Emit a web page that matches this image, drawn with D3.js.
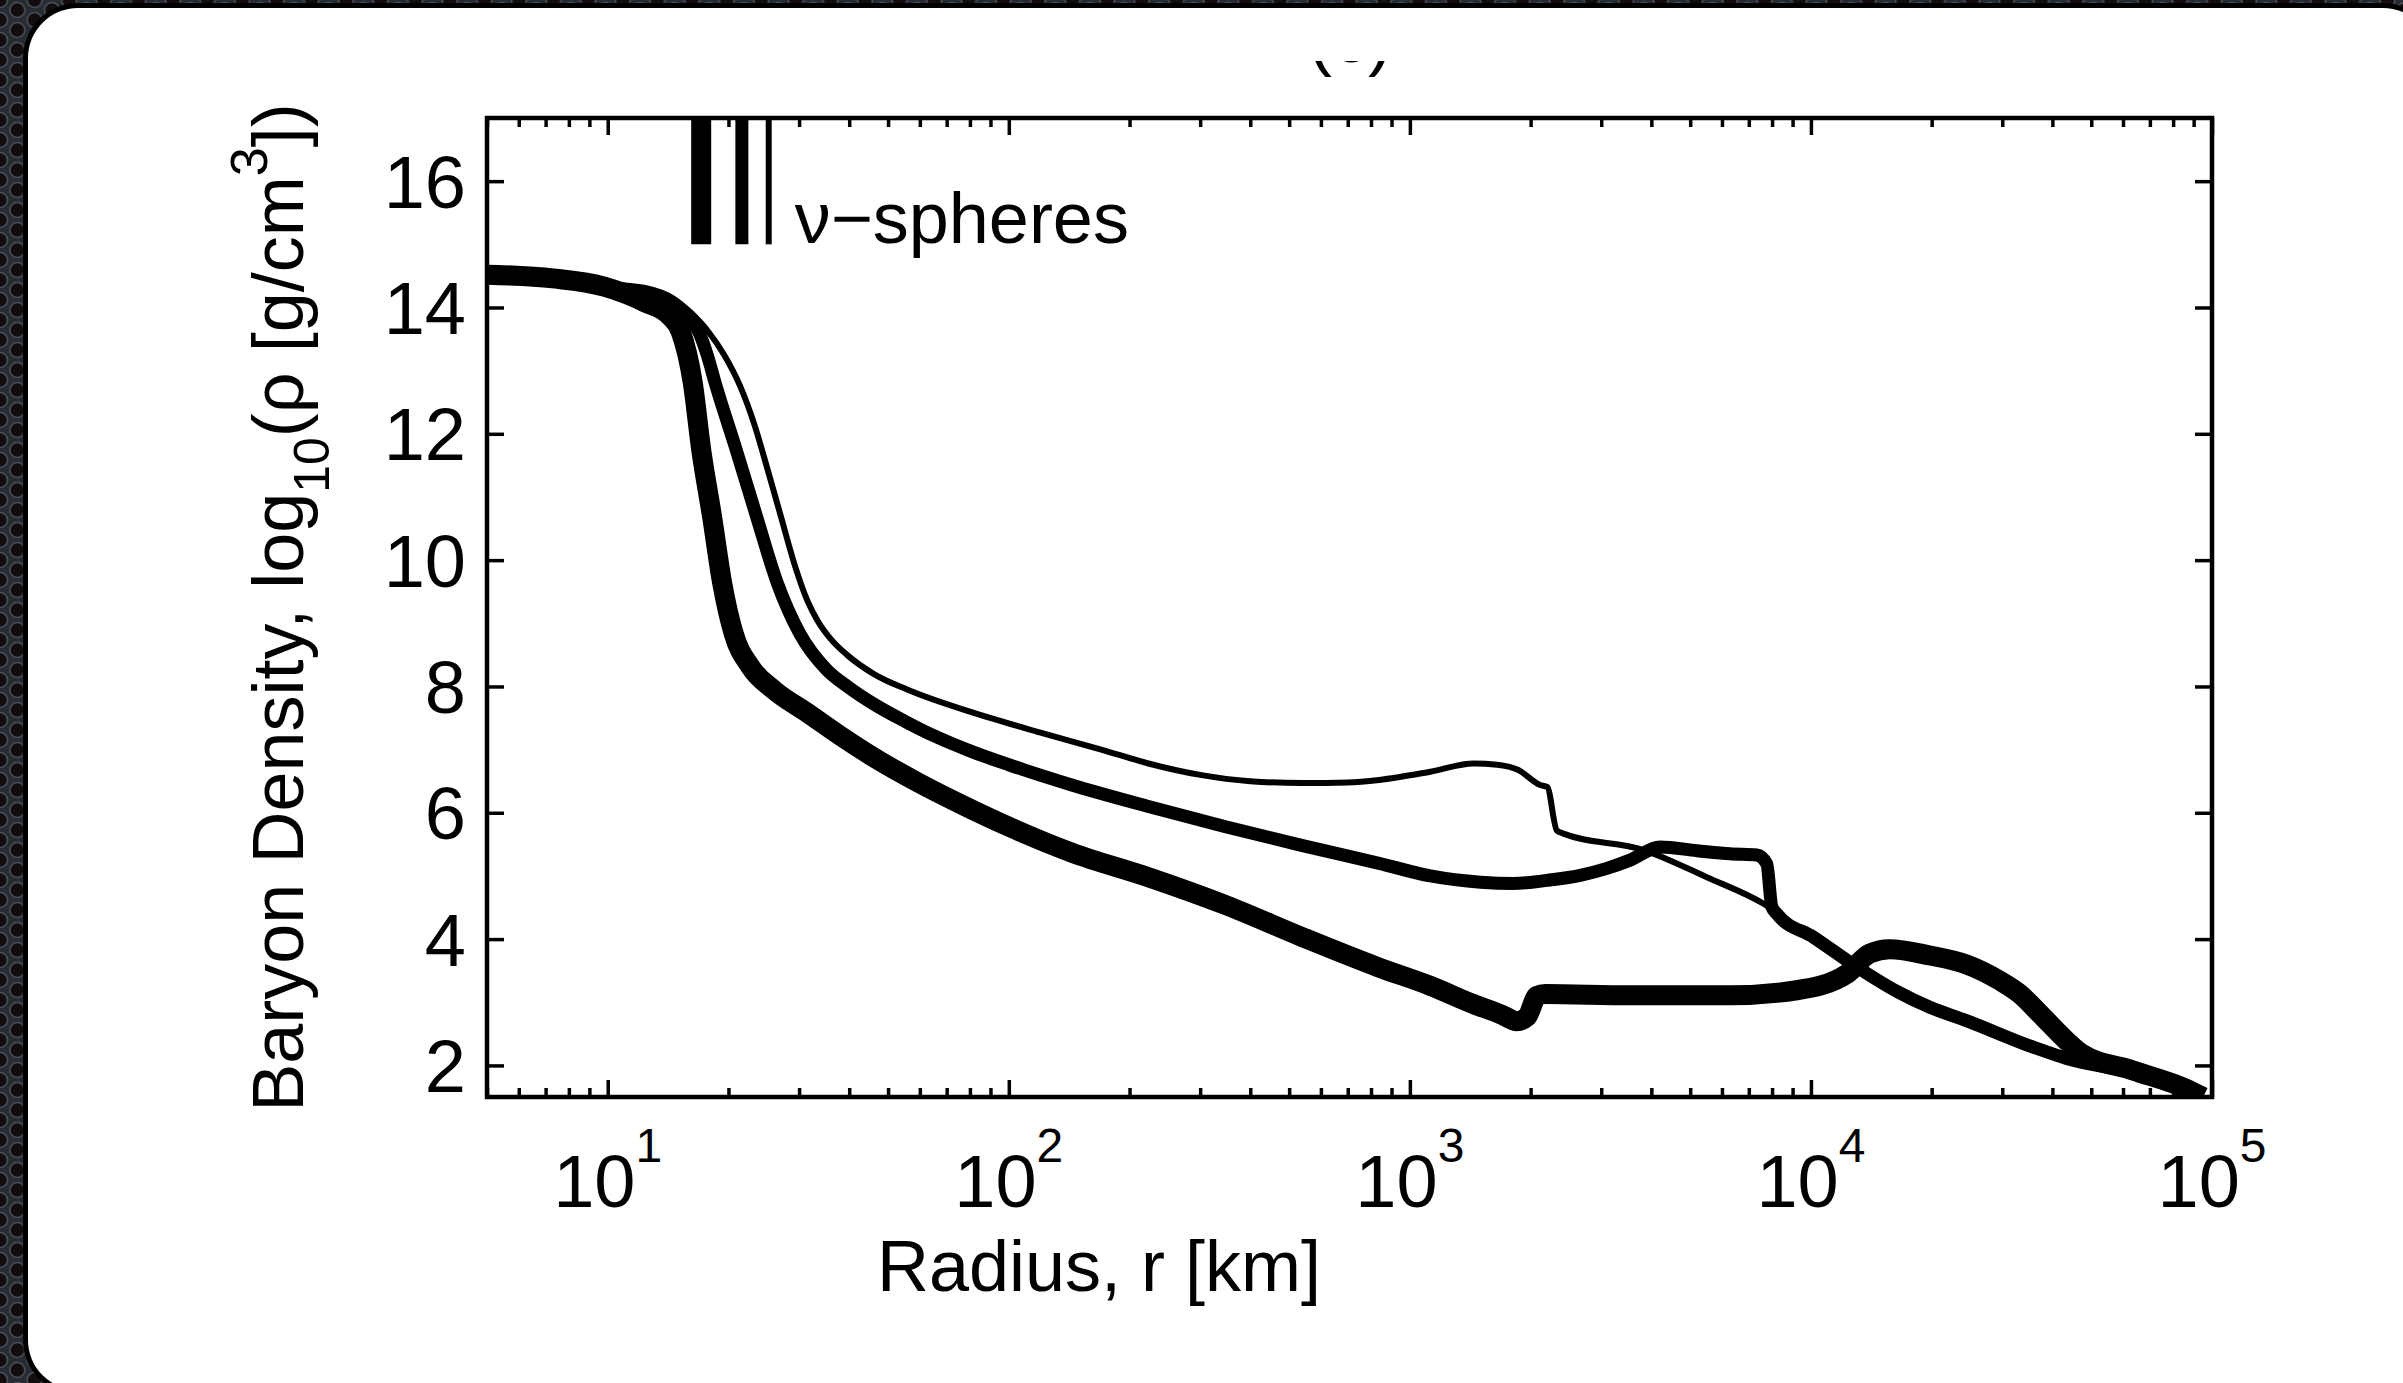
<!DOCTYPE html>
<html>
<head>
<meta charset="utf-8">
<script src="https://cdn.jsdelivr.net/npm/d3@7"></script>
<style>
    html, body { margin: 0; padding: 0; background: #1c1f24; overflow: hidden; }
    svg { display: block; }
    text { font-family: "Liberation Sans", Arial, Helvetica, sans-serif; fill: #000; }
</style>
</head>
<body>
<div id="chart"></div>
<script>

// radius [km], log10 density (thick, medium, thin)
const profileThick = [
    [5, 14.52], [7.3, 14.46], [9.8, 14.33], [12.4, 14.08], [14.3, 13.86], [15.2, 13.62],
    [16.3, 12.8], [17.1, 11.75], [18.2, 10.69], [19.3, 9.63], [20.6, 8.84], [22.7, 8.31],
    [26, 7.94], [31.5, 7.58], [38, 7.22], [46, 6.88], [59.4, 6.48], [78, 6.1], [100, 5.78],
    [143.5, 5.37], [223, 4.98], [347, 4.54], [540, 4.03], [838, 3.55], [1125, 3.26],
    [1442, 2.97], [1700, 2.8], [1849, 2.7], [1960, 2.77], [2074, 3.1], [2175, 3.13],
    [3540, 3.11], [6280, 3.11], [9220, 3.19], [12300, 3.45], [14000, 3.77], [15700, 3.84],
    [19800, 3.74], [24400, 3.6], [29600, 3.34], [33200, 3.13], [37200, 2.82], [43400, 2.39],
    [47000, 2.2], [63500, 1.92], [86300, 1.63], [95000, 1.5]
]

const profileMedium = [
    [5, 14.53], [7.3, 14.47], [9.8, 14.35], [12.4, 14.2], [14.3, 14.03], [15.5, 13.92],
    [16.2, 13.8], [16.9, 13.6], [17.7, 13.25], [18.54, 12.8], [20.9, 11.75], [23.5, 10.69],
    [26.5, 9.63], [30.1, 8.84], [35.2, 8.26], [40, 7.98], [46.1, 7.72], [55, 7.45],
    [65, 7.22], [80, 6.98], [100, 6.76], [143.5, 6.44], [223, 6.1], [347, 5.78],
    [540, 5.48], [838, 5.2], [1125, 5.0], [1500, 4.9], [1811, 4.88], [2200, 4.93],
    [2660, 5.01], [3100, 5.12], [3540, 5.25], [4205, 5.46], [5200, 5.4], [6280, 5.35],
    [7330, 5.33], [7760, 5.19], [7990, 4.51], [8220, 4.4], [10150, 4.03], [13000, 3.56],
    [16400, 3.17], [19800, 2.92], [24400, 2.71], [35800, 2.29], [43400, 2.11], [63500, 1.88],
    [86300, 1.6], [95000, 1.5]
]

const profileThin = [
    [5, 14.56], [7.3, 14.5], [9.8, 14.38], [12.4, 14.31], [14.6, 14.14], [16.1, 13.92],
    [17.8, 13.62], [19.5, 13.25], [21.4, 12.75], [23.2, 12.15], [25, 11.45], [27, 10.7],
    [29.5, 9.85], [31.5, 9.35], [33.3, 9.05], [36, 8.75], [39.5, 8.5], [46, 8.2],
    [55.8, 7.95], [81.8, 7.58], [120, 7.27], [170, 7.0], [223, 6.78], [300, 6.6],
    [400, 6.5], [540, 6.47], [700, 6.48], [838, 6.52], [1125, 6.65], [1442, 6.78],
    [1650, 6.76], [1860, 6.68], [2113, 6.44], [2200, 6.41], [2325, 5.72], [2415, 5.67],
    [3830, 5.41], [5500, 4.98], [7620, 4.56], [10150, 4.0], [12300, 3.68], [16400, 3.2],
    [24400, 2.71], [35800, 2.29], [43400, 2.11], [63500, 1.88], [86300, 1.6], [95000, 1.5]
]

// neutrino-sphere radii for the three profiles, same order
const nuSphereRadii = [17.1, 21.6, 25.2]
const nuSphereRange = [15, 17]

const radiusDomain = [5, 1e5]
const densityDomain = [1.5, 17]
const radiusDecades = [1, 2, 3, 4, 5]
const densityTicks = [2, 4, 6, 8, 10, 12, 14, 16]

const lineWidths = [20, 13, 6]

const W = 2403, H = 1383

const svg = d3.select("#chart").append("svg")
    .attr("width", W)
    .attr("height", H)

// perforated dark backdrop + white rounded card
const defs = svg.append("defs")
const pat = defs.append("pattern")
    .attr("id", "holes")
    .attr("patternUnits", "userSpaceOnUse")
    .attr("width", 34.6)
    .attr("height", 20)
pat.append("rect").attr("width", 34.6).attr("height", 20).attr("fill", "#272b32")
;[[0, 0], [0, 20], [17.3, 10], [34.6, 0], [34.6, 20]].forEach(c => {
    pat.append("circle")
        .attr("cx", c[0]).attr("cy", c[1]).attr("r", 7.5)
        .attr("fill", "#140d10")
        .attr("stroke", "#4a5058")
        .attr("stroke-width", 1.6)
})

svg.append("rect").attr("width", W).attr("height", H).attr("fill", "url(#holes)")
svg.append("rect")
    .attr("x", 23).attr("y", 3).attr("width", 2415).attr("height", 1392)
    .attr("rx", 55).attr("fill", "#000")
svg.append("rect")
    .attr("x", 28).attr("y", 8).attr("width", 2405).attr("height", 1382)
    .attr("rx", 50).attr("fill", "#fff")

// panel letter, cut off at the top like in the source figure
defs.append("clipPath").attr("id", "titleclip")
    .append("rect").attr("x", 0).attr("y", 61).attr("width", W).attr("height", 60)
svg.append("text")
    .attr("clip-path", "url(#titleclip)")
    .attr("x", 1350).attr("y", 62)
    .attr("text-anchor", "middle")
    .style("font-size", "72px")
    .text("(c)")

const x = d3.scaleLog().domain(radiusDomain).range([487, 2212])
const y = d3.scaleLinear().domain(densityDomain).range([1097, 118])

const [x0, x1] = x.range()
const [y0, y1] = y.range()

defs.append("clipPath").attr("id", "plotclip")
    .append("rect")
    .attr("x", x0).attr("y", y1)
    .attr("width", x1 - x0).attr("height", y0 - y1)

const plot = svg.append("g").attr("clip-path", "url(#plotclip)")

const line = d3.line()
    .x(d => x(d[0]))
    .y(d => y(d[1]))
    .curve(d3.curveMonotoneX)

const series = [profileThick, profileMedium, profileThin]

plot.selectAll("path.profile")
    .data(series)
    .join("path")
    .attr("class", "profile")
    .attr("d", line)
    .attr("fill", "none")
    .attr("stroke", "#000")
    .attr("stroke-width", (d, i) => lineWidths[i])
    .attr("stroke-linejoin", "round")

plot.selectAll("line.nusphere")
    .data(nuSphereRadii)
    .join("line")
    .attr("class", "nusphere")
    .attr("x1", d => x(d)).attr("x2", d => x(d))
    .attr("y1", y(nuSphereRange[0])).attr("y2", y(nuSphereRange[1]))
    .attr("stroke", "#000")
    .attr("stroke-width", (d, i) => lineWidths[i])

svg.append("text")
    .attr("x", x(nuSphereRadii[2]) + 26)
    .attr("y", y(nuSphereRange[0]) - 1)
    .style("font-size", "72px")
    .text("\u03BD\u2212spheres")

// ticks on all four sides, pointing inward
const allTicks = x.ticks()
const majorX = allTicks.filter(v => radiusDecades.includes(Math.round(Math.log10(v))) && Math.abs(Math.log10(v) - Math.round(Math.log10(v))) < 1e-9)
const minorX = allTicks.filter(v => !majorX.includes(v))

function styleAxis(g) {
    g.select(".domain").remove()
    g.selectAll(".tick line").attr("stroke", "#000").attr("stroke-width", 3.5)
    g.selectAll(".tick text").remove()
}

svg.append("g").attr("transform", `translate(0,${y0})`)
    .call(d3.axisBottom(x).tickValues(majorX).tickSize(-17).tickFormat("")).call(styleAxis)
svg.append("g").attr("transform", `translate(0,${y0})`)
    .call(d3.axisBottom(x).tickValues(minorX).tickSize(-9).tickFormat("")).call(styleAxis)
svg.append("g").attr("transform", `translate(0,${y1})`)
    .call(d3.axisTop(x).tickValues(majorX).tickSize(-17).tickFormat("")).call(styleAxis)
svg.append("g").attr("transform", `translate(0,${y1})`)
    .call(d3.axisTop(x).tickValues(minorX).tickSize(-9).tickFormat("")).call(styleAxis)
svg.append("g").attr("transform", `translate(${x0},0)`)
    .call(d3.axisLeft(y).tickValues(densityTicks).tickSize(-17).tickFormat("")).call(styleAxis)
svg.append("g").attr("transform", `translate(${x1},0)`)
    .call(d3.axisRight(y).tickValues(densityTicks).tickSize(-17).tickFormat("")).call(styleAxis)

svg.append("rect")
    .attr("x", x0).attr("y", y1)
    .attr("width", x1 - x0).attr("height", y0 - y1)
    .attr("fill", "none")
    .attr("stroke", "#000")
    .attr("stroke-width", 4.5)

// tick labels
svg.selectAll("text.ylab")
    .data(densityTicks)
    .join("text")
    .attr("class", "ylab")
    .attr("x", x0 - 21)
    .attr("y", d => y(d))
    .attr("dy", "0.36em")
    .attr("text-anchor", "end")
    .style("font-size", "74px")
    .text(d => d)

const xlab = svg.selectAll("text.xlab")
    .data(radiusDecades)
    .join("text")
    .attr("class", "xlab")
    .attr("x", d => x(Math.pow(10, d)))
    .attr("y", 1207)
    .attr("text-anchor", "middle")
    .style("font-size", "74px")
xlab.append("tspan").text("10")
xlab.append("tspan").attr("dy", -45).style("font-size", "48px").text(d => d)

// axis titles
svg.append("text")
    .attr("x", 1099).attr("y", 1291)
    .attr("text-anchor", "middle")
    .style("font-size", "72px")
    .text("Radius, r [km]")

const ytitle = svg.append("text")
    .attr("transform", `translate(303,${(y0 + y1) / 2}) rotate(-90)`)
    .attr("text-anchor", "middle")
    .style("font-size", "72px")
ytitle.append("tspan").text("Baryon Density, log")
ytitle.append("tspan").attr("dy", 26).style("font-size", "50px").text("10")
ytitle.append("tspan").attr("dy", -26).text("(\u03C1 [g/cm")
ytitle.append("tspan").attr("dy", -36).style("font-size", "52px").text("3")
ytitle.append("tspan").attr("dy", 36).text("])")

</script>
</body>
</html>
